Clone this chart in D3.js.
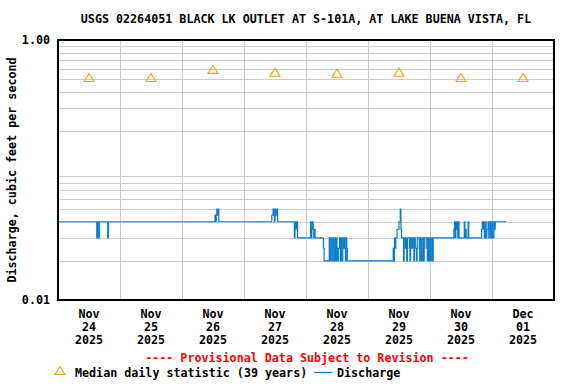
<!DOCTYPE html>
<html>
<head>
<meta charset="utf-8">
<script src="https://cdn.jsdelivr.net/npm/d3@7"></script>
<style>
  body { margin: 0; background: #fff; }
  text { font-family: "DejaVu Sans Mono", monospace; font-weight: bold; }
</style>
</head>
<body>
<div id="drawing"></div>
<script>
 var width = 576;
 var height = 384;
 var margin = {top: 40, right: 22, bottom: 84, left: 58};
 var plotW = width - margin.left - margin.right;
 var plotH = height - margin.top - margin.bottom;

 var titleText = "USGS 02264051 BLACK LK OUTLET AT S-101A, AT LAKE BUENA VISTA, FL";
 var yLabel = "Discharge, cubic feet per second";
 var startDate = new Date(2025, 10, 24);
 var endDate = new Date(2025, 11, 2);

 // median daily statistic, one per day (noon)
 var medianDays = [24, 25, 26, 27, 28, 29, 30, 31];
 var medianValues = [0.51, 0.51, 0.59, 0.56, 0.55, 0.56, 0.51, 0.51];

 // discharge, run-length: hours after Nov 24 00:00 when value changes
 var qHours = [0, 15.0, 15.25, 15.75, 16.0, 19.25, 19.5,
   60.75, 61.0, 61.25, 61.5, 61.75, 62.0, 62.25,
   82.75, 83.25, 83.5, 83.75, 84.0, 84.25, 84.75, 85.0,
   91.5, 91.75, 92.0, 92.25, 92.5, 92.75,
   97.75, 98.0, 98.25, 98.5, 98.75, 99.0, 99.25, 99.5,
   102.75, 103.0, 105.0, 105.25, 105.5, 105.75, 106.0, 106.5, 106.75, 107.0, 107.25, 107.5,
   107.75, 108.0, 108.25, 108.5, 109.0, 109.25, 109.5, 109.75, 110.25, 110.5, 110.75, 111.0,
   111.25, 111.5, 111.75, 112.0,
   129.75, 130.0, 130.25, 130.5, 130.75, 131.25, 132.0, 132.5, 132.75, 133.0,
   133.75, 134.0, 134.5, 134.75, 135.0, 135.25, 136.0, 136.25, 136.5, 137.0, 137.25, 137.75,
   138.0, 138.5, 138.75, 139.0, 139.25, 140.0, 140.25, 140.5, 140.75, 141.0, 141.5, 141.75,
   142.0, 142.75, 143.0, 143.25, 143.5, 143.75, 144.0, 144.25, 144.5, 144.75, 145.0, 145.25,
   153.25, 153.5, 153.75, 154.0, 154.25, 154.5, 154.75, 155.0, 155.25, 157.25, 157.5, 157.75,
   158.0, 158.75, 159.0,
   164.0, 164.25, 164.5, 164.75, 165.0, 165.5, 165.75, 166.0, 166.5, 166.75, 167.25, 167.5,
   167.75, 168.0, 168.25, 168.75, 169.0, 169.25, 173.5];
 var qValues = [0.04, 0.03, 0.04, 0.03, 0.04, 0.03, 0.04,
   0.045, 0.04, 0.045, 0.05, 0.045, 0.05, 0.04,
   0.045, 0.05, 0.045, 0.04, 0.05, 0.045, 0.05, 0.04,
   0.03, 0.035, 0.04, 0.035, 0.04, 0.03,
   0.04, 0.03, 0.035, 0.04, 0.035, 0.03, 0.035, 0.03,
   0.025, 0.02, 0.03, 0.02, 0.025, 0.03, 0.02, 0.03, 0.025, 0.02, 0.03, 0.02,
   0.03, 0.025, 0.02, 0.025, 0.03, 0.02, 0.03, 0.02, 0.03, 0.025, 0.03, 0.025,
   0.02, 0.03, 0.025, 0.02,
   0.025, 0.02, 0.03, 0.025, 0.03, 0.035, 0.04, 0.05, 0.035, 0.03,
   0.02, 0.03, 0.025, 0.03, 0.02, 0.03, 0.025, 0.02, 0.03, 0.025, 0.03, 0.02,
   0.03, 0.025, 0.02, 0.025, 0.03, 0.02, 0.03, 0.025, 0.02, 0.03, 0.02, 0.025,
   0.03, 0.025, 0.02, 0.03, 0.02, 0.025, 0.03, 0.02, 0.025, 0.03, 0.02, 0.03,
   0.035, 0.04, 0.03, 0.04, 0.035, 0.04, 0.03, 0.04, 0.03, 0.04, 0.03, 0.035,
   0.03, 0.04, 0.03,
   0.035, 0.04, 0.035, 0.04, 0.03, 0.04, 0.03, 0.035, 0.04, 0.03, 0.04, 0.035,
   0.03, 0.04, 0.03, 0.04, 0.035, 0.04, 0.04];

 var yTickLabels = ["1.00", "0.01"];
 var yTickValues = [1, 0.01];

 var hourMs = 3600 * 1000;

 var svg = d3.select("#drawing").append("svg")
   .attr("width", width)
   .attr("height", height);

 var xScale = d3.scaleTime()
   .domain([startDate, endDate])
   .range([margin.left, margin.left + plotW]);

 var yScale = d3.scaleLog()
   .domain([0.01, 1])
   .range([margin.top + plotH, margin.top]);

 // gridlines
 var hGrid = [];
 [0.01, 0.1].forEach(function(d) {
   for (var i = 2; i <= 9; i++) hGrid.push(+(d * i).toFixed(3));
 });
 svg.append("g").selectAll("line")
   .data(hGrid)
   .enter().append("line")
   .attr("x1", margin.left).attr("x2", margin.left + plotW)
   .attr("y1", d => Math.round(yScale(d)) + 0.5)
   .attr("y2", d => Math.round(yScale(d)) + 0.5)
   .attr("stroke", "#cccccc")
   .attr("stroke-width", 1);

 var dayTicks = d3.timeDay.range(d3.timeDay.offset(startDate, 1), endDate);
 svg.append("g").selectAll("line")
   .data(dayTicks)
   .enter().append("line")
   .attr("y1", margin.top).attr("y2", margin.top + plotH)
   .attr("x1", d => Math.round(xScale(d)) + 0.5)
   .attr("x2", d => Math.round(xScale(d)) + 0.5)
   .attr("stroke", "#cccccc")
   .attr("stroke-width", 1);

 // discharge line
 var qData = qHours.map(function(h, i) {
   return {date: new Date(+startDate + h * hourMs), value: qValues[i]};
 });
 var line = d3.line()
   .x(d => xScale(d.date))
   .y(d => yScale(d.value))
   .curve(d3.curveStepAfter);
 svg.append("path")
   .attr("d", line(qData))
   .attr("fill", "none")
   .attr("stroke", "#0a7ccc")
   .attr("stroke-width", 1.2);

 // median triangles
 var tri = "M0,-4.5L5,3.5L-5,3.5Z";
 svg.append("g").selectAll("path")
   .data(medianDays)
   .enter().append("path")
   .attr("d", tri)
   .attr("transform", function(d, i) {
     var dt = new Date(2025, 10, d, 12);
     return "translate(" + xScale(dt) + "," + yScale(medianValues[i]) + ")";
   })
   .attr("fill", "none")
   .attr("stroke", "#ffa200")
   .attr("stroke-width", 1.2);

 // frame
 svg.append("rect")
   .attr("x", margin.left).attr("y", margin.top)
   .attr("width", plotW).attr("height", plotH)
   .attr("fill", "none")
   .attr("stroke", "#000")
   .attr("stroke-width", 2);

 // title
 svg.append("text")
   .attr("x", 306).attr("y", 23)
   .attr("text-anchor", "middle")
   .style("font-size", "11.7px")
   .text(titleText);

 // y tick labels
 svg.append("g").selectAll("text")
   .data(yTickValues)
   .enter().append("text")
   .attr("x", margin.left - 8)
   .attr("y", d => yScale(d) + 4)
   .attr("text-anchor", "end")
   .style("font-size", "11.7px")
   .text((d, i) => yTickLabels[i]);

 // y label
 svg.append("text")
   .attr("transform", "translate(16," + (margin.top + plotH / 2) + ") rotate(-90)")
   .attr("text-anchor", "middle")
   .style("font-size", "11.7px")
   .text(yLabel);

 // x tick labels, centred on each day
 var days = d3.timeDay.range(startDate, endDate);
 var fmts = [d3.timeFormat("%b"), d3.timeFormat("%d"), d3.timeFormat("%Y")];
 var xl = svg.append("g").selectAll("text")
   .data(days)
   .enter().append("text")
   .attr("text-anchor", "middle")
   .style("font-size", "11.7px");
 fmts.forEach(function(f, k) {
   xl.append("tspan")
     .attr("x", d => xScale(d3.timeHour.offset(d, 12)))
     .attr("y", 318 + k * 13)
     .text(d => f(d));
 });

 // provisional note
 svg.append("text")
   .attr("x", 307).attr("y", 362)
   .attr("text-anchor", "middle")
   .attr("fill", "#ff0000")
   .style("font-size", "11.7px")
   .text("---- Provisional Data Subject to Revision ----");

 // legend
 svg.append("path")
   .attr("d", tri)
   .attr("transform", "translate(60,371)")
   .attr("fill", "none")
   .attr("stroke", "#ffa200")
   .attr("stroke-width", 1.2);
 svg.append("text")
   .attr("x", 75).attr("y", 377)
   .style("font-size", "11.7px")
   .text("Median daily statistic (39 years)");
 svg.append("line")
   .attr("x1", 314).attr("x2", 332)
   .attr("y1", 372.5).attr("y2", 372.5)
   .attr("stroke", "#0a7ccc")
   .attr("stroke-width", 1.2);
 svg.append("text")
   .attr("x", 337).attr("y", 377)
   .style("font-size", "11.7px")
   .text("Discharge");
</script>
</body>
</html>
